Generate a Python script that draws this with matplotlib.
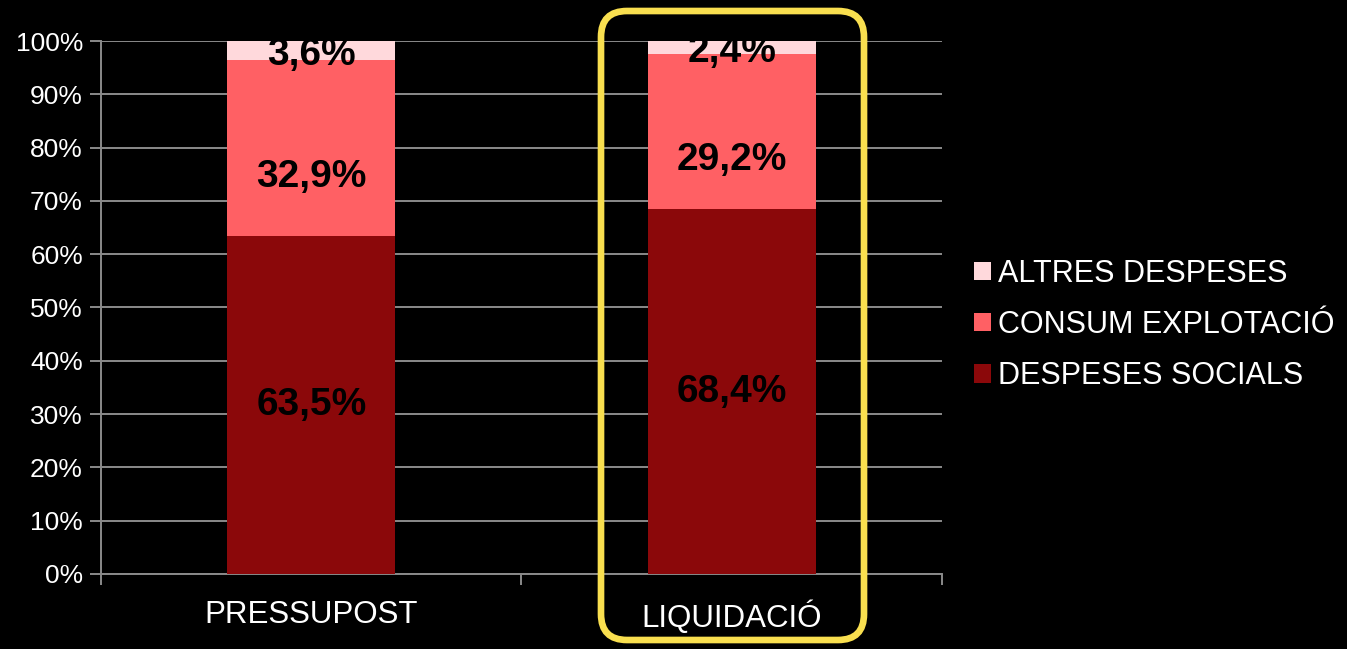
import numpy as np
import matplotlib.pyplot as plt
from matplotlib.patches import FancyBboxPatch
from matplotlib.transforms import IdentityTransform
from matplotlib.ticker import PercentFormatter

categories = ["PRESSUPOST", "LIQUIDACIÓ"]
series_names = ["DESPESES SOCIALS", "CONSUM EXPLOTACIÓ", "ALTRES DESPESES"]
despeses_socials = [63.5, 68.4]
consum_explotacio = [32.9, 29.2]
altres_despeses = [3.6, 2.4]
value_labels = [["63,5%", "68,4%"], ["32,9%", "29,2%"], ["3,6%", "2,4%"]]

colors = ["#8B080A", "#FF6064", "#FFD9DC"]
grid_col = "#8a8a8a"

plt.rcParams["font.family"] = ["Liberation Sans", "DejaVu Sans"]

fig = plt.figure(figsize=(13.47, 6.49), dpi=100, facecolor="black")
ax = fig.add_axes([0.075, 0.1156, 0.6243, 0.8212])
ax.set_facecolor("black")

x = np.arange(len(categories))
series = [despeses_socials, consum_explotacio, altres_despeses]
bottom = np.zeros(len(categories))
label_shift = [0, -5.4, -0.8]  # Excel placed the middle labels a bit low
for i, vals in enumerate(series):
    vals = np.array(vals)
    ax.bar(x, vals, 0.4, bottom=bottom, color=colors[i], label=series_names[i], zorder=3)
    for j in range(len(categories)):
        ax.text(x[j], bottom[j] + vals[j] / 2 + label_shift[i], value_labels[i][j],
                ha="center", va="center", fontsize=28, fontweight="bold", color="black", zorder=4)
    bottom += vals

ax.set_xlim(-0.5, 1.5)
ax.set_ylim(0, 100)
ax.set_yticks(np.arange(0, 101, 10))
ax.yaxis.set_major_formatter(PercentFormatter(decimals=0))
ax.grid(axis="y", color=grid_col, linewidth=1.4, zorder=0)
ax.set_xticks(x)
ax.set_xticklabels(categories)
ax.set_xticks([-0.5, 0.5, 1.5], minor=True)
ax.tick_params(axis="x", which="major", length=0, pad=19, labelsize=22.5, labelcolor="white")
ax.tick_params(axis="x", which="minor", length=8, width=1.4, color=grid_col)
ax.tick_params(axis="y", length=8, width=1.4, color=grid_col, labelsize=19, labelcolor="white", pad=5)
for s in ["top", "right"]:
    ax.spines[s].set_visible(False)
for s in ["left", "bottom"]:
    ax.spines[s].set_color(grid_col)
    ax.spines[s].set_linewidth(1.4)

handles, labels = ax.get_legend_handles_labels()
leg = fig.legend(handles[::-1], labels[::-1], loc="center left",
                 bbox_to_anchor=(974 / 1347, 324 / 649), frameon=False,
                 fontsize=22, handlelength=0.55, handleheight=0.55, handletextpad=0.25,
                 labelspacing=0.7, borderpad=0, borderaxespad=0)
for t in leg.get_texts():
    t.set_color("white")

# yellow highlight box around LIQUIDACIÓ
box = FancyBboxPatch((601 + 26, 9 + 26), 263 - 52, 629 - 52,
                     boxstyle="round,pad=26", transform=IdentityTransform(),
                     facecolor="none", edgecolor="#F9DF4F", linewidth=4.8, zorder=10)
fig.patches.append(box)

fig.savefig("out.png", dpi=100, facecolor="black")
